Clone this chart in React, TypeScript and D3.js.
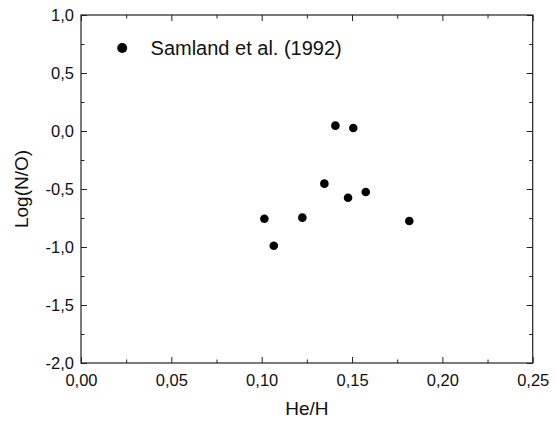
import React, { useEffect, useRef } from "react";
import * as d3 from "d3";

// He/H vs Log(N/O), Samland et al. (1992)
const heH = [0.1015, 0.1067, 0.1225, 0.1817, 0.1408, 0.1507, 0.1347, 0.1478, 0.1576];
const logNO = [-0.756, -0.989, -0.747, -0.776, 0.046, 0.026, -0.454, -0.575, -0.526];
const xTicks = [0, 0.05, 0.1, 0.15, 0.2, 0.25];
const yTicks = [-2, -1.5, -1, -0.5, 0, 0.5, 1];
const legendLabel = "Samland et al. (1992)";

const W = 557;
const H = 423;
const margin = { top: 15, right: 24.3, bottom: 60, left: 81 };

const fmt = (d: number, digits: number) => d.toFixed(digits).replace(".", ",");

const App = () => {
  const svgRef = useRef<SVGSVGElement>(null);

  useEffect(() => {
    document.body.style.margin = "0";
    const svg = d3.select(svgRef.current);
    svg.selectAll("*").remove();

    const width = W - margin.left - margin.right;
    const height = H - margin.top - margin.bottom;
    const font = "Arial, 'Liberation Sans', sans-serif";

    const xScale = d3.scaleLinear().domain([0, 0.25]).range([0, width]);
    const yScale = d3.scaleLinear().domain([-2, 1]).range([height, 0]);

    const g = svg
      .append("g")
      .attr("transform", `translate(${margin.left},${margin.top})`);

    // minor ticks halfway between majors
    const xMinor = d3.range(0.025, 0.25, 0.05);
    const yMinor = d3.range(-1.75, 1, 0.5);

    const styleAxis = (sel: any) => {
      sel.select(".domain").remove();
      sel.selectAll("line").attr("stroke", "#222").attr("stroke-width", 1);
      sel.selectAll("text").attr("font-family", font).attr("font-size", 16.5).attr("fill", "#111");
    };

    // bottom
    g.append("g")
      .attr("transform", `translate(0,${height})`)
      .call(d3.axisBottom(xScale).tickValues(xTicks).tickSizeInner(-6).tickPadding(11).tickFormat((d: any) => fmt(d, 2)))
      .call(styleAxis);
    g.append("g")
      .attr("transform", `translate(0,${height})`)
      .call(d3.axisBottom(xScale).tickValues(xMinor).tickSizeInner(-3.5).tickFormat(() => ""))
      .call(styleAxis);
    // top
    g.append("g")
      .call(d3.axisTop(xScale).tickValues(xTicks).tickSizeInner(-6).tickFormat(() => ""))
      .call(styleAxis);
    g.append("g")
      .call(d3.axisTop(xScale).tickValues(xMinor).tickSizeInner(-3.5).tickFormat(() => ""))
      .call(styleAxis);
    // left
    g.append("g")
      .call(d3.axisLeft(yScale).tickValues(yTicks).tickSizeInner(-6).tickPadding(7).tickFormat((d: any) => fmt(d, 1)))
      .call(styleAxis);
    g.append("g")
      .call(d3.axisLeft(yScale).tickValues(yMinor).tickSizeInner(-3.5).tickFormat(() => ""))
      .call(styleAxis);
    // right
    g.append("g")
      .attr("transform", `translate(${width},0)`)
      .call(d3.axisRight(yScale).tickValues(yTicks).tickSizeInner(-6).tickFormat(() => ""))
      .call(styleAxis);
    g.append("g")
      .attr("transform", `translate(${width},0)`)
      .call(d3.axisRight(yScale).tickValues(yMinor).tickSizeInner(-3.5).tickFormat(() => ""))
      .call(styleAxis);

    // frame
    g.append("rect")
      .attr("width", width)
      .attr("height", height)
      .attr("fill", "none")
      .attr("stroke", "#222")
      .attr("stroke-width", 1.2);

    // points
    g.selectAll("circle.pt")
      .data(heH)
      .join("circle")
      .attr("class", "pt")
      .attr("cx", (d) => xScale(d))
      .attr("cy", (d, i) => yScale(logNO[i]))
      .attr("r", 4.3)
      .attr("fill", "#000");

    // legend
    g.append("circle")
      .attr("cx", xScale(0.0228))
      .attr("cy", yScale(0.715))
      .attr("r", 5)
      .attr("fill", "#000");
    g.append("text")
      .attr("x", xScale(0.0385))
      .attr("y", yScale(0.715))
      .attr("dy", "0.35em")
      .attr("font-family", font)
      .attr("font-size", 20)
      .attr("fill", "#111")
      .text(legendLabel);

    // axis titles
    svg
      .append("text")
      .attr("x", margin.left + width / 2)
      .attr("y", 415)
      .attr("text-anchor", "middle")
      .attr("font-family", font)
      .attr("font-size", 19)
      .attr("fill", "#111")
      .text("He/H");
    svg
      .append("text")
      .attr("transform", `translate(28,${margin.top + height / 2}) rotate(-90)`)
      .attr("text-anchor", "middle")
      .attr("font-family", font)
      .attr("font-size", 19)
      .attr("fill", "#111")
      .text("Log(N/O)");
  }, []);

  return <svg ref={svgRef} width={W} height={H} style={{ display: "block" }}></svg>;
};

export default App;
